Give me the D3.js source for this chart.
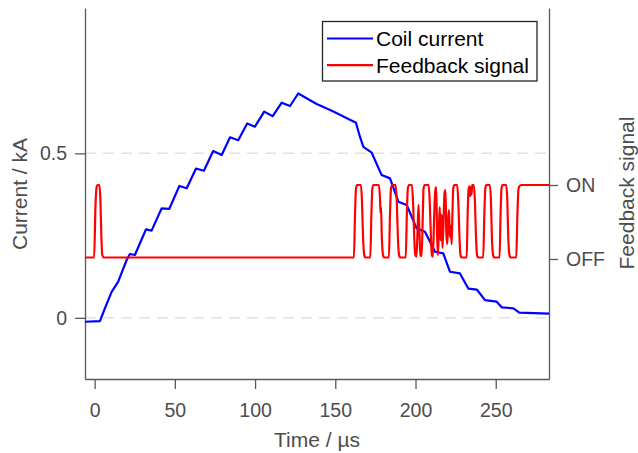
<!DOCTYPE html>
<html>
<head>
<meta charset="utf-8">
<script src="https://cdn.jsdelivr.net/npm/d3@7"></script>
<style>
	body {margin: 0; background: #fff;}
	svg text {font-family: "Liberation Sans", Arial, sans-serif;}
	.axis path, .axis line {stroke: #595959; stroke-width: 1.3;}
	.axis text {fill: #4d4d4d; font-size: 19.5px;}
	.label {fill: #4d4d4d; font-size: 21px;}
	.grid line {stroke: #e2e2e2; stroke-width: 1.5; stroke-dasharray: 11,7;}
</style>
</head>
<body>
<div id="chart"></div>
<script>
// coil current (kA)
var coilTime = [-6, 3.3, 6.4, 10.6, 14.7, 19.9, 22, 25.1, 28.2, 32, 35.5, 41.8, 46.5, 52.8, 57.4,
	63.2, 68.1, 73.9, 79.2, 84.4, 89.5, 95.1, 99.9, 105.7, 111, 116.6, 121.8, 126.9, 138.4, 148.8,
	162.9, 165.4, 167.5, 172.7, 178.9, 184.1, 189.3, 194.5, 200.7, 205.9, 212.2, 217.3, 221.5,
	227.7, 232.9, 238.2, 243.3, 250.6, 253.7, 261, 264.7, 283.2];
var coilCurrent = [-0.012, -0.01, 0.029, 0.079, 0.11, 0.175, 0.194, 0.191, 0.226, 0.269, 0.265,
	0.333, 0.331, 0.401, 0.394, 0.454, 0.447, 0.507, 0.495, 0.549, 0.54, 0.591, 0.581, 0.627, 0.613,
	0.654, 0.644, 0.682, 0.65, 0.627, 0.593, 0.55, 0.52, 0.502, 0.434, 0.424, 0.353, 0.343, 0.272,
	0.262, 0.201, 0.196, 0.14, 0.135, 0.089, 0.086, 0.054, 0.049, 0.032, 0.029, 0.016, 0.013];

// feedback signal, OFF = 0, ON = 1
var fbTime = [-6, -0.3, 0.5, 1.3, 1.9, 3.0, 3.6, 4.2, 4.8, 5.6,
	161.6, 162.3, 162.9, 163.6, 166.0, 166.6, 167.3, 168.0, 168.7,
	171.8, 172.5, 173.1, 173.8, 177.2, 177.9, 178.2, 178.5, 179.0, 179.7, 180.4,
	183.4, 184.1, 184.7, 185.4, 187.6, 188.3, 189.0, 189.7, 190.4,
	193.9, 194.6, 195.2, 195.9, 197.8, 198.5, 199.2, 199.8, 200.6, 201.3, 201.9, 202.4, 203.1, 203.8,
	204.5, 205.0, 205.7, 208.2, 208.9, 209.6, 210.2, 210.8, 211.6, 212.3, 212.9, 213.4, 213.9,
	214.5, 215.1, 215.7, 216.3, 216.8, 217.4, 218.1, 218.7, 219.2, 219.8, 220.4, 220.9, 221.4,
	222.0, 222.5, 223.0, 223.5, 224.1, 226.0, 226.7, 227.4, 228.0, 228.7,
	231.9, 232.5, 233.1, 233.6, 234.0, 234.4, 234.9, 235.3, 236.3, 237.0, 237.7, 238.3, 239.0,
	242.2, 242.9, 243.5, 244.1, 246.3, 247.0, 247.6, 248.3, 249.0,
	252.4, 253.0, 253.6, 254.2, 256.5, 257.2, 257.8, 258.5, 259.2,
	262.8, 263.5, 264.2, 265.0, 266.0, 283.2];
var fbValue = [0.02, 0.02, 0.7, 0.98, 1, 1, 0.8, 0.3, 0.05, 0.02,
	0.02, 0.6, 0.95, 1, 1, 0.8, 0.3, 0.06, 0.02,
	0.02, 0.6, 0.95, 1, 1, 0.8, 0.62, 0.7, 0.3, 0.06, 0.02,
	0.02, 0.6, 0.95, 1, 1, 0.8, 0.3, 0.06, 0.02,
	0.02, 0.6, 0.95, 1, 1, 0.75, 0.3, 0.06, 0.03, 0.4, 0.73, 0.4, 0.05, 0.04,
	0.55, 0.95, 1, 1, 0.75, 0.3, 0.05, 0.03, 0.55, 0.92, 0.97, 0.4, 0.05,
	0.35, 0.7, 0.25, 0.6, 0.15, 0.45, 0.9, 0.93, 0.35, 0.2, 0.55, 0.66, 0.3,
	0.45, 0.2, 0.6, 0.95, 1, 1, 0.75, 0.3, 0.06, 0.02,
	0.02, 0.6, 0.95, 0.98, 0.85, 0.97, 0.87, 1, 1, 0.8, 0.3, 0.06, 0.02,
	0.02, 0.6, 0.95, 1, 1, 0.8, 0.3, 0.06, 0.02,
	0.02, 0.6, 0.95, 1, 1, 0.8, 0.3, 0.06, 0.02,
	0.02, 0.6, 0.95, 0.99, 1, 1];

var timeTicks = [0, 50, 100, 150, 200, 250];
var currentTicks = [0, 0.5];
var fbTicks = [0, 1];
var fbTickLabels = ["OFF", "ON"];
var legendNames = ["Coil current", "Feedback signal"];
var legendColors = ["#0000ff", "#ff0000"];

var width = 638, height = 453;
var plotLeft = 85, plotRight = 549, plotTop = 8, plotBottom = 379;

var svg = d3.select("#chart").append("svg")
	.attr("width", width)
	.attr("height", height);

var x = d3.scaleLinear().domain([-6, 283.2]).range([plotLeft, plotRight]);
var yL = d3.scaleLinear().domain([-0.186, 0.942]).range([plotBottom, plotTop]);
var yR = d3.scaleLinear().domain([-1.622, 3.392]).range([plotBottom, plotTop]);

// dashed grid at the left ticks
svg.append("g")
	.attr("class", "grid")
	.selectAll("line")
	.data(currentTicks)
	.enter()
	.append("line")
	.attr("x1", plotLeft)
	.attr("x2", plotRight)
	.attr("y1", d => yL(d))
	.attr("y2", d => yL(d));

// axes
svg.append("g")
	.attr("class", "axis")
	.attr("transform", "translate(0," + plotBottom + ")")
	.call(d3.axisBottom(x).tickValues(timeTicks).tickSize(10).tickPadding(14).tickSizeOuter(0));

svg.append("g")
	.attr("class", "axis")
	.attr("transform", "translate(" + plotLeft + ",0)")
	.call(d3.axisLeft(yL).tickValues(currentTicks).tickFormat(d3.format("")).tickSize(10).tickPadding(8).tickSizeOuter(0));

svg.append("g")
	.attr("class", "axis")
	.attr("transform", "translate(" + plotRight + ",0)")
	.call(d3.axisRight(yR).tickValues(fbTicks).tickFormat((d, i) => fbTickLabels[i]).tickSize(9).tickPadding(8).tickSizeOuter(0));

// axis labels
svg.append("text")
	.attr("class", "label")
	.attr("text-anchor", "middle")
	.attr("x", (plotLeft + plotRight) / 2)
	.attr("y", 447)
	.text("Time / µs");

svg.append("text")
	.attr("class", "label")
	.attr("text-anchor", "middle")
	.attr("dy", "0.35em")
	.attr("transform", "translate(20,194) rotate(-90)")
	.text("Current / kA");

svg.append("text")
	.attr("class", "label")
	.attr("text-anchor", "middle")
	.attr("dy", "0.35em")
	.attr("transform", "translate(627,193) rotate(-90)")
	.text("Feedback signal");

// lines
var coilLine = d3.line()
	.x(i => x(coilTime[i]))
	.y(i => yL(coilCurrent[i]));

var fbLine = d3.line()
	.curve(d3.curveMonotoneX)
	.x(i => x(fbTime[i]))
	.y(i => yR(fbValue[i]));

svg.append("path")
	.datum(d3.range(coilTime.length))
	.attr("fill", "none")
	.attr("stroke", legendColors[0])
	.attr("stroke-width", 2.2)
	.attr("stroke-linejoin", "round")
	.attr("d", coilLine);

svg.append("path")
	.datum(d3.range(fbTime.length))
	.attr("fill", "none")
	.attr("stroke", legendColors[1])
	.attr("stroke-width", 2.2)
	.attr("stroke-linejoin", "round")
	.attr("d", fbLine);

// legend
var legend = svg.append("g").attr("class", "legend");
legend.append("rect")
	.attr("x", 322.5)
	.attr("y", 21.5)
	.attr("width", 214.5)
	.attr("height", 59.5)
	.attr("fill", "#fff")
	.attr("stroke", "#262626")
	.attr("stroke-width", 1.3);

var rows = legend.selectAll(".row")
	.data(legendNames)
	.enter()
	.append("g")
	.attr("class", "row")
	.attr("transform", (d, i) => "translate(0," + (38.5 + i * 26.7) + ")");

rows.append("line")
	.attr("x1", 327)
	.attr("x2", 373)
	.attr("stroke", (d, i) => legendColors[i])
	.attr("stroke-width", 2.2);

rows.append("text")
	.attr("x", 376)
	.attr("dy", "0.35em")
	.attr("fill", "#000")
	.style("font-size", "21px")
	.text(d => d);
</script>
</body>
</html>
